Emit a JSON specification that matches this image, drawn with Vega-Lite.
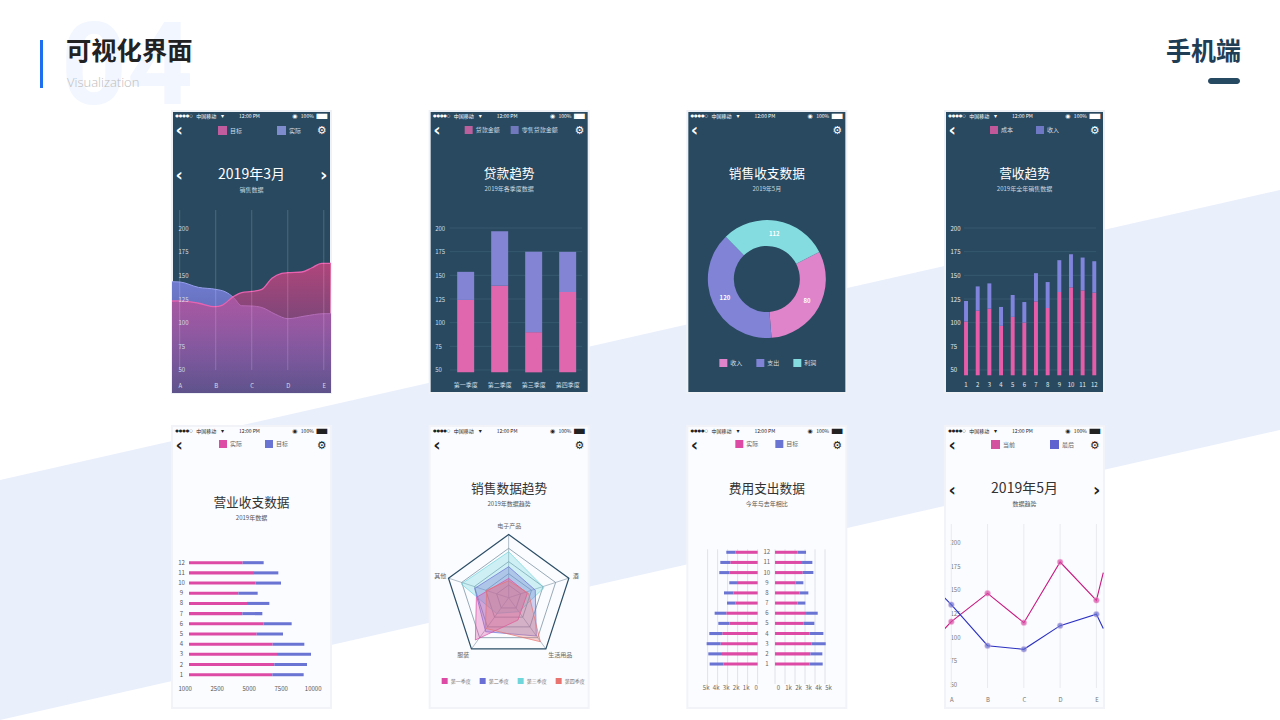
{
"$schema":"https://vega.github.io/schema/vega-lite/v6.json",
"background":"#ffffff",
"padding":{"left":-1,"top":-1,"right":0,"bottom":0},
"columns":4,
"bounds":"flush",
"spacing":{"row":33,"column":98.67},
"resolve":{"scale":{"color":"independent","fill":"independent"},"legend":{"color":"independent","fill":"independent"}},
"config":{
 "font":"Noto Sans CJK SC",
 "view":{"stroke":null},
 "axis":{"domain":false,"ticks":false,"grid":false,"labelFont":"Noto Sans CJK SC","labelFontSize":6,"labelOverlap":false,"labelFlush":false,"labelBound":false,"zindex":1},
 "legend":{"symbolType":"square","symbolSize":64,"labelFont":"Noto Sans CJK SC","labelFontSize":6,"labelOffset":3,"padding":0,"rowPadding":0,"symbolStrokeWidth":0},
 "title":{"font":"Noto Sans CJK SC","fontSize":12.7,"fontWeight":"normal","subtitleFont":"Noto Sans CJK SC","subtitleFontSize":6,"subtitlePadding":5,"anchor":"middle"},
 "text":{"font":"Noto Sans CJK SC"}
},
"datasets":{
 "status":[{"slot":"s2","row":"status","label":"中国移动"},{"slot":"time","row":"status","label":"12:00 PM"},{"slot":"percent","row":"status","label":"100%"}],
 "dots":[{"slot":"back","row":"status","label":"●●●●○"}],
 "icons":[{"slot":"wifi","row":"status","label":"▾"},{"slot":"alarm","row":"status","label":"◉"}],
 "battery":[{"slot":"end","row":"status","label":"▬"}],
 "nav":[{"slot":"back","row":"nav","label":"‹"}],
 "gear":[{"slot":"end","row":"nav","label":"⚙"}],
 "pager":[{"slot":"back","row":"pager","label":"‹"},{"slot":"end","row":"pager","label":"›"}],
 "levels":[{"level":50},{"level":75},{"level":100},{"level":125},{"level":150},{"level":175},{"level":200}],
 "thousands":[{"low":0},{"low":1000},{"low":2000},{"low":3000},{"low":4000},{"low":5000}],
 "areaRows":[
  {"series":"实际","pos":-0.214,"value":143.3},{"series":"实际","pos":0,"value":143},{"series":"实际","pos":0.52,"value":137.3},{"series":"实际","pos":1,"value":135.2},{"series":"实际","pos":1.26,"value":132.7},{"series":"实际","pos":1.49,"value":126.8},{"series":"实际","pos":1.72,"value":117.9},{"series":"实际","pos":2,"value":117.6},{"series":"实际","pos":2.28,"value":116},{"series":"实际","pos":2.65,"value":109},{"series":"实际","pos":3,"value":104.2},{"series":"实际","pos":3.48,"value":107},{"series":"实际","pos":4,"value":109.5},{"series":"实际","pos":4.2,"value":109.5},
  {"series":"目标","pos":-0.214,"value":122.9},{"series":"目标","pos":0,"value":123},{"series":"目标","pos":0.52,"value":120.5},{"series":"目标","pos":0.98,"value":116.9},{"series":"目标","pos":1.17,"value":118.3},{"series":"目标","pos":1.49,"value":127.5},{"series":"目标","pos":1.72,"value":131.7},{"series":"目标","pos":2,"value":133},{"series":"目标","pos":2.28,"value":135.2},{"series":"目标","pos":2.56,"value":146.8},{"series":"目标","pos":2.83,"value":152},{"series":"目标","pos":3,"value":152.8},{"series":"目标","pos":3.39,"value":153.5},{"series":"目标","pos":3.67,"value":158},{"series":"目标","pos":3.94,"value":162.7},{"series":"目标","pos":4.2,"value":162.7}
 ],
 "fiveTicks":[{"pos":0,"value":219,"low":50},{"pos":1,"value":219,"low":50},{"pos":2,"value":219,"low":50},{"pos":3,"value":219,"low":50},{"pos":4,"value":219,"low":50}],
 "quarterBars":[
  {"quarter":"第一季度","series":"贷款金额","low":47.5,"high":124},{"quarter":"第一季度","series":"零售贷款金额","low":124,"high":153.7},
  {"quarter":"第二季度","series":"贷款金额","low":47.5,"high":139},{"quarter":"第二季度","series":"零售贷款金额","low":139,"high":196.5},
  {"quarter":"第三季度","series":"贷款金额","low":47.5,"high":90},{"quarter":"第三季度","series":"零售贷款金额","low":90,"high":174.8},
  {"quarter":"第四季度","series":"贷款金额","low":47.5,"high":132.4},{"quarter":"第四季度","series":"零售贷款金额","low":132.4,"high":174.8}
 ],
 "donut":[{"name":"收入","value":80,"share":112.8,"rank":1},{"name":"支出","value":120,"share":140.5,"rank":2},{"name":"利润","value":112,"share":106.8,"rank":3}],
 "monthBars":[
  {"month":"1","series":"成本","low":44.4,"high":101.2},{"month":"1","series":"收入","low":101.2,"high":122.9},
  {"month":"2","series":"成本","low":44.4,"high":112.7},{"month":"2","series":"收入","low":112.7,"high":138.3},
  {"month":"3","series":"成本","low":44.4,"high":114.8},{"month":"3","series":"收入","low":114.8,"high":141.5},
  {"month":"4","series":"成本","low":44.4,"high":96.6},{"month":"4","series":"收入","low":96.6,"high":116.6},
  {"month":"5","series":"成本","low":44.4,"high":106.1},{"month":"5","series":"收入","low":106.1,"high":129.2},
  {"month":"6","series":"成本","low":44.4,"high":100.1},{"month":"6","series":"收入","low":100.1,"high":121.8},
  {"month":"7","series":"成本","low":44.4,"high":122.5},{"month":"7","series":"收入","low":122.5,"high":152.3},
  {"month":"8","series":"成本","low":44.4,"high":115.5},{"month":"8","series":"收入","low":115.5,"high":142.9},
  {"month":"9","series":"成本","low":44.4,"high":132.4},{"month":"9","series":"收入","low":132.4,"high":166},
  {"month":"10","series":"成本","low":44.4,"high":137.3},{"month":"10","series":"收入","low":137.3,"high":172.3},
  {"month":"11","series":"成本","low":44.4,"high":134.1},{"month":"11","series":"收入","low":134.1,"high":168.8},
  {"month":"12","series":"成本","low":44.4,"high":131.7},{"month":"12","series":"收入","low":131.7,"high":164.9}
 ],
 "hBars":[
  {"month":"12","series":"实际","low":340,"high":4531},{"month":"12","series":"目标","low":4531,"high":6172},
  {"month":"11","series":"实际","low":340,"high":5416},{"month":"11","series":"目标","low":5416,"high":7317},
  {"month":"10","series":"实际","low":340,"high":5547},{"month":"10","series":"目标","low":5547,"high":7526},
  {"month":"9","series":"实际","low":340,"high":4193},{"month":"9","series":"目标","low":4193,"high":5703},
  {"month":"8","series":"实际","low":340,"high":4870},{"month":"8","series":"目标","low":4870,"high":6615},
  {"month":"7","series":"实际","low":340,"high":4505},{"month":"7","series":"目标","low":4505,"high":6068},
  {"month":"6","series":"实际","low":340,"high":6146},{"month":"6","series":"目标","low":6146,"high":8359},
  {"month":"5","series":"实际","low":340,"high":5625},{"month":"5","series":"目标","low":5625,"high":7682},
  {"month":"4","series":"实际","low":340,"high":6875},{"month":"4","series":"目标","low":6875,"high":9349},
  {"month":"3","series":"实际","low":340,"high":7213},{"month":"3","series":"目标","low":7213,"high":9870},
  {"month":"2","series":"实际","low":340,"high":7005},{"month":"2","series":"目标","low":7005,"high":9557},
  {"month":"1","series":"实际","low":340,"high":6849},{"month":"1","series":"目标","low":6849,"high":9297}
 ],
 "rings":[
  {"ring":"r1","i":1,"east":0,"north":100},{"ring":"r1","i":2,"east":95.1,"north":30.9},{"ring":"r1","i":3,"east":58.8,"north":-80.9},{"ring":"r1","i":4,"east":-58.8,"north":-80.9},{"ring":"r1","i":5,"east":-95.1,"north":30.9},
  {"ring":"r2","i":1,"east":0,"north":78},{"ring":"r2","i":2,"east":74.2,"north":24.1},{"ring":"r2","i":3,"east":45.9,"north":-63.1},{"ring":"r2","i":4,"east":-45.9,"north":-63.1},{"ring":"r2","i":5,"east":-74.2,"north":24.1},
  {"ring":"r3","i":1,"east":0,"north":57},{"ring":"r3","i":2,"east":54.2,"north":17.6},{"ring":"r3","i":3,"east":33.5,"north":-46.1},{"ring":"r3","i":4,"east":-33.5,"north":-46.1},{"ring":"r3","i":5,"east":-54.2,"north":17.6},
  {"ring":"r4","i":1,"east":0,"north":38},{"ring":"r4","i":2,"east":36.1,"north":11.7},{"ring":"r4","i":3,"east":22.3,"north":-30.7},{"ring":"r4","i":4,"east":-22.3,"north":-30.7},{"ring":"r4","i":5,"east":-36.1,"north":11.7},
  {"ring":"r5","i":1,"east":0,"north":20},{"ring":"r5","i":2,"east":19,"north":6.2},{"ring":"r5","i":3,"east":11.8,"north":-16.2},{"ring":"r5","i":4,"east":-11.8,"north":-16.2},{"ring":"r5","i":5,"east":-19,"north":6.2}
 ],
 "spokes":[
  {"spoke":"s1","i":1,"east":0,"north":0},{"spoke":"s1","i":2,"east":0,"north":100},
  {"spoke":"s2","i":1,"east":0,"north":0},{"spoke":"s2","i":2,"east":95.1,"north":30.9},
  {"spoke":"s3","i":1,"east":0,"north":0},{"spoke":"s3","i":2,"east":58.8,"north":-80.9},
  {"spoke":"s4","i":1,"east":0,"north":0},{"spoke":"s4","i":2,"east":-58.8,"north":-80.9},
  {"spoke":"s5","i":1,"east":0,"north":0},{"spoke":"s5","i":2,"east":-95.1,"north":30.9}
 ],
 "radar":[
  {"q":"第三季度","i":1,"east":0,"north":72.6},{"q":"第三季度","i":2,"east":55.8,"north":15.8},{"q":"第三季度","i":3,"east":16.3,"north":-22.1},{"q":"第三季度","i":4,"east":-19.5,"north":-24.7},{"q":"第三季度","i":5,"east":-74.7,"north":21.6},
  {"q":"第二季度","i":1,"east":0,"north":49},{"q":"第二季度","i":2,"east":42,"north":12},{"q":"第二季度","i":3,"east":43.7,"north":-60.5},{"q":"第二季度","i":4,"east":-36.3,"north":-53.7},{"q":"第二季度","i":5,"east":-53.7,"north":14.7},
  {"q":"第一季度","i":1,"east":0,"north":30.5},{"q":"第一季度","i":2,"east":29.5,"north":6.8},{"q":"第一季度","i":3,"east":14.7,"north":-35.3},{"q":"第一季度","i":4,"east":-52.6,"north":-66.8},{"q":"第一季度","i":5,"east":-51,"north":0.5},
  {"q":"第四季度","i":1,"east":0,"north":26.8},{"q":"第四季度","i":2,"east":31.6,"north":6.8},{"q":"第四季度","i":3,"east":50,"north":-69.5},{"q":"第四季度","i":4,"east":-36.8,"north":-48.4},{"q":"第四季度","i":5,"east":-34.7,"north":12}
 ],
 "radarLabels":[{"label":"电子产品","east":1,"north":113},{"label":"酒","east":106,"north":33.7},{"label":"生活用品","east":81.6,"north":-90},{"label":"服装","east":-71.6,"north":-90},{"label":"其他","east":-108,"north":33.7}],
 "leftBars":[
  {"month":"12","series":"实际","low":0,"high":2233},{"month":"12","series":"目标","low":2233,"high":3133},
  {"month":"11","series":"实际","low":0,"high":2733},{"month":"11","series":"目标","low":2733,"high":3733},
  {"month":"10","series":"实际","low":0,"high":2800},{"month":"10","series":"目标","low":2800,"high":3833},
  {"month":"9","series":"实际","low":0,"high":2067},{"month":"9","series":"目标","low":2067,"high":2833},
  {"month":"8","series":"实际","low":0,"high":2400},{"month":"8","series":"目标","low":2400,"high":3367},
  {"month":"7","series":"实际","low":0,"high":2200},{"month":"7","series":"目标","low":2200,"high":3067},
  {"month":"6","series":"实际","low":0,"high":3133},{"month":"6","series":"目标","low":3133,"high":4300},
  {"month":"5","series":"实际","low":0,"high":2800},{"month":"5","series":"目标","low":2800,"high":3933},
  {"month":"4","series":"实际","low":0,"high":3533},{"month":"4","series":"目标","low":3533,"high":4833},
  {"month":"3","series":"实际","low":0,"high":3700},{"month":"3","series":"目标","low":3700,"high":5100},
  {"month":"2","series":"实际","low":0,"high":3567},{"month":"2","series":"目标","low":3567,"high":4933},
  {"month":"1","series":"实际","low":0,"high":3433},{"month":"1","series":"目标","low":3433,"high":4800}
 ],
 "rightBars":[
  {"month":"12","series":"实际","low":0,"high":2267},{"month":"12","series":"目标","low":2267,"high":3100},
  {"month":"11","series":"实际","low":0,"high":2700},{"month":"11","series":"目标","low":2700,"high":3733},
  {"month":"10","series":"实际","low":0,"high":2767},{"month":"10","series":"目标","low":2767,"high":3833},
  {"month":"9","series":"实际","low":0,"high":2033},{"month":"9","series":"目标","low":2033,"high":2833},
  {"month":"8","series":"实际","low":0,"high":2433},{"month":"8","series":"目标","low":2433,"high":3333},
  {"month":"7","series":"实际","low":0,"high":2233},{"month":"7","series":"目标","low":2233,"high":3033},
  {"month":"6","series":"实际","low":0,"high":3100},{"month":"6","series":"目标","low":3100,"high":4267},
  {"month":"5","series":"实际","low":0,"high":2867},{"month":"5","series":"目标","low":2867,"high":3933},
  {"month":"4","series":"实际","low":0,"high":3467},{"month":"4","series":"目标","low":3467,"high":4833},
  {"month":"3","series":"实际","low":0,"high":3667},{"month":"3","series":"目标","low":3667,"high":5067},
  {"month":"2","series":"实际","low":0,"high":3533},{"month":"2","series":"目标","low":3533,"high":4733},
  {"month":"1","series":"实际","low":0,"high":3467},{"month":"1","series":"目标","low":3467,"high":4767}
 ],
 "trend":[
  {"series":"当前","pos":-0.2,"value":108.1},{"series":"当前","pos":0,"value":116.2},{"series":"当前","pos":1,"value":146.1},{"series":"当前","pos":2,"value":115.1},{"series":"当前","pos":3,"value":179.2},{"series":"当前","pos":4,"value":138.7},{"series":"当前","pos":4.19,"value":168},
  {"series":"最后","pos":-0.2,"value":141.9},{"series":"最后","pos":0,"value":134.2},{"series":"最后","pos":1,"value":90.8},{"series":"最后","pos":2,"value":87},{"series":"最后","pos":3,"value":112},{"series":"最后","pos":4,"value":124},{"series":"最后","pos":4.19,"value":109}
 ],
 "trendTicks":[{"pos":0,"value":219.4,"low":46},{"pos":1,"value":219.4,"low":46},{"pos":2,"value":219.4,"low":46},{"pos":3,"value":219.4,"low":46},{"pos":4,"value":219.4,"low":46}]
},
"concat":[
{
 "width":159,"height":282,
 "view":{"fill":"#28495f","stroke":"#eef1f6","strokeWidth":2},
 "title":{"text":"2019年3月","subtitle":"销售数据","color":"#ffffff","subtitleColor":"#cdd6dd","fontSize":14,"offset":-193},
 "resolve":{"scale":{"x":"independent","y":"independent"}},
 "layer":[
  {
   "encoding":{
    "x":{"field":"across","type":"quantitative","axis":null,"scale":{"domain":[172,331],"nice":false,"zero":false}},
    "y":{"field":"down","type":"quantitative","axis":null,"scale":{"domain":[393,111],"nice":false,"zero":false}}
   },
   "layer":[
    {"data":{"values":[{"across":0,"down":0,"acrossEnd":1280,"downEnd":720}]},"mark":{"type":"rect","fill":"#ffffff","opacity":0},"encoding":{"x2":{"field":"acrossEnd"},"y2":{"field":"downEnd"}}},
    {"data":{"values":[{"across":0,"down":480,"downEnd":720},{"across":1280,"down":190,"downEnd":430}]},"mark":{"type":"area","color":"#e9effb"},"encoding":{"y2":{"field":"downEnd"}}},
    {"data":{"values":[{"across":127,"down":104,"label":"04"}]},"mark":{"type":"text","font":"Roboto","fontWeight":"bold","fontSize":115,"color":"#f2f6fe","align":"center","baseline":"alphabetic"},"encoding":{"text":{"field":"label"}}},
    {"data":{"values":[{"across":40,"down":40,"acrossEnd":43,"downEnd":88}]},"mark":{"type":"rect","color":"#1e6ff0"},"encoding":{"x2":{"field":"acrossEnd"},"y2":{"field":"downEnd"}}},
    {"data":{"values":[{"across":66,"down":52,"label":"可视化界面"}]},"mark":{"type":"text","fontSize":25.3,"fontWeight":"bold","color":"#222222","align":"left","baseline":"middle"},"encoding":{"text":{"field":"label"}}},
    {"data":{"values":[{"across":67,"down":83,"label":"Visualization"}]},"mark":{"type":"text","font":"Open Sans","fontSize":13,"fontWeight":300,"color":"#bdbdbd","align":"left","baseline":"middle"},"encoding":{"text":{"field":"label"}}},
    {"data":{"values":[{"across":1241,"down":52,"label":"手机端"}]},"mark":{"type":"text","fontSize":25,"fontWeight":"bold","color":"#1f3d55","align":"right","baseline":"middle"},"encoding":{"text":{"field":"label"}}},
    {"data":{"values":[{"across":1208,"down":78,"acrossEnd":1240,"downEnd":84}]},"mark":{"type":"rect","color":"#274a63","cornerRadius":3},"encoding":{"x2":{"field":"acrossEnd"},"y2":{"field":"downEnd"}}}
   ]
  },
  {
   "data":{"name":"areaRows"},
   "encoding":{
    "x":{"field":"pos","type":"quantitative","title":null,"scale":{"domain":[-0.214,4.2],"nice":false,"zero":false},"axis":{"zindex":1,"values":[0,1,2,3,4],"labelExpr":"['A','B','C','D','E'][datum.value]","labelPadding":-8,"labelBaseline":"middle","labelColor":"#d5dde3"}},
    "y":{"field":"value","type":"quantitative","title":null,"stack":null,"scale":{"domain":[25.7,323.6],"nice":false,"zero":false},"axis":{"zindex":1,"values":[50,75,100,125,150,175,200],"labelAlign":"left","labelPadding":-6,"labelColor":"#d5dde3"}}
   },
   "layer":[
    {"transform":[{"filter":{"field":"series","equal":"实际"}}],"mark":{"type":"area","interpolate":"monotone","color":{"gradient":"linear","x1":0,"y1":0,"x2":0,"y2":1,"stops":[{"offset":0,"color":"#707bd0"},{"offset":1,"color":"#465585"}]}},"encoding":{"y2":{"datum":25.7}}},
    {"transform":[{"filter":{"field":"series","equal":"实际"}}],"mark":{"type":"line","interpolate":"monotone","strokeWidth":1},"encoding":{"color":{"field":"series","type":"nominal","scale":{"domain":["目标","实际"],"range":["#e862b0","#949dea"]},"legend":{"orient":"none","legendX":46,"legendY":15,"direction":"horizontal","columns":2,"columnPadding":22,"title":null,"labelColor":"#d5dde3","symbolSize":1,"symbolStrokeWidth":8,"symbolOpacity":0.8}}}},
    {"transform":[{"filter":{"field":"series","equal":"目标"}}],"mark":{"type":"area","interpolate":"monotone","color":{"gradient":"linear","x1":0,"y1":0,"x2":0,"y2":1,"stops":[{"offset":0,"color":"rgba(214,68,130,0.78)"},{"offset":1,"color":"rgba(190,70,160,0.2)"}]}},"encoding":{"y2":{"datum":25.7}}},
    {"transform":[{"filter":{"field":"series","equal":"目标"}}],"mark":{"type":"line","interpolate":"monotone","strokeWidth":1.3},"encoding":{"color":{"field":"series","type":"nominal"}}},
    {"data":{"name":"fiveTicks"},"mark":{"type":"rule","color":"#ffffff","opacity":0.18,"strokeWidth":1},"encoding":{"y2":{"field":"low"}}}
   ]
  },
  {
   "encoding":{
    "x":{"field":"slot","type":"nominal","axis":null,"scale":{"domain":["back","carrier","s2","wifi","s4","time","s6","s7","alarm","percent","end"],"range":[0,159],"padding":0.5}},
    "y":{"field":"row","type":"nominal","axis":null,"scale":{"domain":["status","nav","a","b","pager"],"range":[5,65],"padding":0}},
    "text":{"field":"label"}
   },
   "layer":[
    {"data":{"name":"status"},"mark":{"type":"text","color":"#ffffff","fontSize":5,"dx":-2}},
    {"data":{"name":"dots"},"mark":{"type":"text","color":"#ffffff","fontSize":4,"font":"DejaVu Sans","align":"left","dx":-4}},
    {"data":{"name":"icons"},"mark":{"type":"text","color":"#ffffff","fontSize":6,"font":"DejaVu Sans"}},
    {"data":{"name":"battery"},"mark":{"type":"text","color":"#ffffff","fontSize":14,"font":"DejaVu Sans","dx":-2}},
    {"data":{"name":"nav"},"mark":{"type":"text","color":"#ffffff","fontSize":18,"font":"DejaVu Sans","fontWeight":"bold"}},
    {"data":{"name":"gear"},"mark":{"type":"text","color":"#ffffff","fontSize":11,"font":"DejaVu Sans","dx":-2}},
    {"data":{"name":"pager"},"mark":{"type":"text","color":"#ffffff","fontSize":18,"font":"DejaVu Sans","fontWeight":"bold"}}
   ]
  }
 ]
},
{
 "width":159,"height":282,
 "view":{"fill":"#28495f","stroke":"#eef1f6","strokeWidth":2},
 "title":{"text":"贷款趋势","subtitle":"2019年各季度数据","color":"#ffffff","subtitleColor":"#cdd6dd","offset":-83},
 "resolve":{"scale":{"x":"independent","y":"independent"}},
 "layer":[
  {
   "encoding":{
    "y":{"type":"quantitative","title":null,"scale":{"domain":[25.7,323.6],"nice":false,"zero":false}}
   },
   "layer":[
    {"data":{"name":"levels"},"mark":{"type":"rule","color":"#37596f","xOffset":-7.5,"x2Offset":6},"encoding":{"x":{"datum":"第一季度","type":"nominal","bandPosition":0,"scale":{"type":"band","domain":["第一季度","第二季度","第三季度","第四季度"],"range":[19,155],"paddingInner":0.5,"paddingOuter":0.25},"title":null,"axis":{"labelPadding":-9,"labelBaseline":"middle","labelColor":"#d5dde3","labelAngle":0}},"x2":{"datum":"第四季度","bandPosition":1},"y":{"field":"level","type":"quantitative","axis":{"values":[50,75,100,125,150,175,200],"labelAlign":"left","labelPadding":-5,"labelColor":"#d5dde3"}}}},
    {"data":{"name":"quarterBars"},"mark":{"type":"bar"},"encoding":{"x":{"field":"quarter","type":"nominal","title":null},"y":{"field":"low","type":"quantitative"},"y2":{"field":"high"},"color":{"field":"series","type":"nominal","scale":{"domain":["贷款金额","零售贷款金额"],"range":["#e067ad","#8384d3"]},"legend":{"orient":"none","legendX":35,"legendY":15,"direction":"horizontal","columns":2,"columnPadding":10,"title":null,"labelColor":"#d5dde3","symbolOpacity":0.8}}}}
   ]
  },
  {
   "encoding":{
    "x":{"field":"slot","type":"nominal","axis":null,"scale":{"domain":["back","carrier","s2","wifi","s4","time","s6","s7","alarm","percent","end"],"range":[0,159],"padding":0.5}},
    "y":{"field":"row","type":"nominal","axis":null,"scale":{"domain":["status","nav","a","b","pager"],"range":[5,65],"padding":0}},
    "text":{"field":"label"}
   },
   "layer":[
    {"data":{"name":"status"},"mark":{"type":"text","color":"#ffffff","fontSize":5,"dx":-2}},
    {"data":{"name":"dots"},"mark":{"type":"text","color":"#ffffff","fontSize":4,"font":"DejaVu Sans","align":"left","dx":-4}},
    {"data":{"name":"icons"},"mark":{"type":"text","color":"#ffffff","fontSize":6,"font":"DejaVu Sans"}},
    {"data":{"name":"battery"},"mark":{"type":"text","color":"#ffffff","fontSize":14,"font":"DejaVu Sans","dx":-2}},
    {"data":{"name":"nav"},"mark":{"type":"text","color":"#ffffff","fontSize":18,"font":"DejaVu Sans","fontWeight":"bold"}},
    {"data":{"name":"gear"},"mark":{"type":"text","color":"#ffffff","fontSize":11,"font":"DejaVu Sans","dx":-2}}
   ]
  }
 ]
},
{
 "width":159,"height":282,
 "view":{"fill":"#28495f","stroke":"#eef1f6","strokeWidth":2},
 "title":{"text":"销售收支数据","subtitle":"2019年5月","color":"#ffffff","subtitleColor":"#cdd6dd","offset":-83},
 "resolve":{"scale":{"x":"independent","y":"independent"}},
 "layer":[
  {
   "data":{"name":"donut"},
   "encoding":{
    "theta":{"field":"share","type":"quantitative","stack":true,"scale":{"range":[1.094,7.377]}},
    "order":{"field":"rank","type":"quantitative"},
    "y":{"datum":"donut","type":"nominal","axis":null,"scale":{"domain":["donut"],"range":[168,168]}},
    "color":{"field":"name","type":"nominal","scale":{"domain":["收入","支出","利润"],"range":["#df83ca","#8183d6","#84dbe0"]},"legend":{"orient":"none","legendX":32,"legendY":248,"direction":"horizontal","columns":3,"columnPadding":13,"title":null,"labelColor":"#d5dde3"}}
   },
   "layer":[
    {"mark":{"type":"arc","innerRadius":33,"outerRadius":59}},
    {"mark":{"type":"text","radius":46,"color":"#ffffff","fontSize":6,"fontWeight":"bold"},"encoding":{"text":{"field":"value","type":"quantitative"},"color":{"value":"#ffffff"}}}
   ]
  },
  {
   "encoding":{
    "x":{"field":"slot","type":"nominal","axis":null,"scale":{"domain":["back","carrier","s2","wifi","s4","time","s6","s7","alarm","percent","end"],"range":[0,159],"padding":0.5}},
    "y":{"field":"row","type":"nominal","axis":null,"scale":{"domain":["status","nav","a","b","pager"],"range":[5,65],"padding":0}},
    "text":{"field":"label"}
   },
   "layer":[
    {"data":{"name":"status"},"mark":{"type":"text","color":"#ffffff","fontSize":5,"dx":-2}},
    {"data":{"name":"dots"},"mark":{"type":"text","color":"#ffffff","fontSize":4,"font":"DejaVu Sans","align":"left","dx":-4}},
    {"data":{"name":"icons"},"mark":{"type":"text","color":"#ffffff","fontSize":6,"font":"DejaVu Sans"}},
    {"data":{"name":"battery"},"mark":{"type":"text","color":"#ffffff","fontSize":14,"font":"DejaVu Sans","dx":-2}},
    {"data":{"name":"nav"},"mark":{"type":"text","color":"#ffffff","fontSize":18,"font":"DejaVu Sans","fontWeight":"bold"}},
    {"data":{"name":"gear"},"mark":{"type":"text","color":"#ffffff","fontSize":11,"font":"DejaVu Sans","dx":-2}}
   ]
  }
 ]
},
{
 "width":159,"height":282,
 "view":{"fill":"#28495f","stroke":"#eef1f6","strokeWidth":2},
 "title":{"text":"营收趋势","subtitle":"2019年全年销售数据","color":"#ffffff","subtitleColor":"#cdd6dd","offset":-83},
 "resolve":{"scale":{"x":"independent","y":"independent"}},
 "layer":[
  {
   "encoding":{
    "y":{"type":"quantitative","title":null,"scale":{"domain":[25.7,323.6],"nice":false,"zero":false}}
   },
   "layer":[
    {"data":{"name":"levels"},"mark":{"type":"rule","color":"#37596f"},"encoding":{"x":{"datum":"1","type":"nominal","bandPosition":0,"scale":{"type":"band","domain":["1","2","3","4","5","6","7","8","9","10","11","12"],"range":[15.2,155.1],"paddingInner":0.66,"paddingOuter":0.33},"title":null,"axis":{"labelPadding":-9,"labelBaseline":"middle","labelColor":"#e6ebef","labelAngle":0}},"x2":{"datum":"12","bandPosition":1},"y":{"field":"level","type":"quantitative","axis":{"values":[50,75,100,125,150,175,200],"labelAlign":"left","labelPadding":-5,"labelColor":"#e6ebef"}}}},
    {"data":{"name":"monthBars"},"mark":{"type":"bar"},"encoding":{"x":{"field":"month","type":"nominal","title":null},"y":{"field":"low","type":"quantitative"},"y2":{"field":"high"},"color":{"field":"series","type":"nominal","scale":{"domain":["成本","收入"],"range":["#e65ca8","#8184dd"]},"legend":{"orient":"none","legendX":45,"legendY":15,"direction":"horizontal","columns":2,"columnPadding":22,"title":null,"labelColor":"#d5dde3","symbolOpacity":0.8}}}}
   ]
  },
  {
   "encoding":{
    "x":{"field":"slot","type":"nominal","axis":null,"scale":{"domain":["back","carrier","s2","wifi","s4","time","s6","s7","alarm","percent","end"],"range":[0,159],"padding":0.5}},
    "y":{"field":"row","type":"nominal","axis":null,"scale":{"domain":["status","nav","a","b","pager"],"range":[5,65],"padding":0}},
    "text":{"field":"label"}
   },
   "layer":[
    {"data":{"name":"status"},"mark":{"type":"text","color":"#ffffff","fontSize":5,"dx":-2}},
    {"data":{"name":"dots"},"mark":{"type":"text","color":"#ffffff","fontSize":4,"font":"DejaVu Sans","align":"left","dx":-4}},
    {"data":{"name":"icons"},"mark":{"type":"text","color":"#ffffff","fontSize":6,"font":"DejaVu Sans"}},
    {"data":{"name":"battery"},"mark":{"type":"text","color":"#ffffff","fontSize":14,"font":"DejaVu Sans","dx":-2}},
    {"data":{"name":"nav"},"mark":{"type":"text","color":"#ffffff","fontSize":18,"font":"DejaVu Sans","fontWeight":"bold"}},
    {"data":{"name":"gear"},"mark":{"type":"text","color":"#ffffff","fontSize":11,"font":"DejaVu Sans","dx":-2}}
   ]
  }
 ]
},
{
 "width":159,"height":282,
 "view":{"fill":"#fbfcff","stroke":"#f1f3f8","strokeWidth":2},
 "title":{"text":"营业收支数据","subtitle":"2019年数据","color":"#333333","subtitleColor":"#555555","offset":-97},
 "resolve":{"scale":{"x":"independent","y":"independent"}},
 "layer":[
  {
   "data":{"name":"hBars"},
   "mark":{"type":"bar"},
   "encoding":{
    "x":{"field":"low","type":"quantitative","title":null,"scale":{"domain":[-990,11432],"nice":false,"zero":false},"axis":{"values":[0,2500,5000,7500,10000],"labelExpr":"datum.value==0?'1000':datum.value","labelPadding":-20,"labelBaseline":"middle","labelColor":"#555555"}},
    "x2":{"field":"high"},
    "y":{"field":"month","type":"nominal","title":null,"scale":{"type":"band","domain":["12","11","10","9","8","7","6","5","4","3","2","1"],"range":[131.6,253.8],"paddingInner":0.7,"paddingOuter":0.35},"axis":{"labelAlign":"center","labelPadding":-9,"labelColor":"#555555"}},
    "color":{"field":"series","type":"nominal","scale":{"domain":["实际","目标"],"range":["#dc4aa5","#6a74d2"]},"legend":{"orient":"none","legendX":47,"legendY":14,"direction":"horizontal","columns":2,"columnPadding":22,"title":null,"labelColor":"#666666"}}
   }
  },
  {
   "encoding":{
    "x":{"field":"slot","type":"nominal","axis":null,"scale":{"domain":["back","carrier","s2","wifi","s4","time","s6","s7","alarm","percent","end"],"range":[0,159],"padding":0.5}},
    "y":{"field":"row","type":"nominal","axis":null,"scale":{"domain":["status","nav","a","b","pager"],"range":[5,65],"padding":0}},
    "text":{"field":"label"}
   },
   "layer":[
    {"data":{"name":"status"},"mark":{"type":"text","color":"#222222","fontSize":5,"dx":-2}},
    {"data":{"name":"dots"},"mark":{"type":"text","color":"#222222","fontSize":4,"font":"DejaVu Sans","align":"left","dx":-4}},
    {"data":{"name":"icons"},"mark":{"type":"text","color":"#222222","fontSize":6,"font":"DejaVu Sans"}},
    {"data":{"name":"battery"},"mark":{"type":"text","color":"#222222","fontSize":14,"font":"DejaVu Sans","dx":-2}},
    {"data":{"name":"nav"},"mark":{"type":"text","color":"#222222","fontSize":18,"font":"DejaVu Sans","fontWeight":"bold"}},
    {"data":{"name":"gear"},"mark":{"type":"text","color":"#222222","fontSize":11,"font":"DejaVu Sans","dx":-2}}
   ]
  }
 ]
},
{
 "width":159,"height":282,
 "view":{"fill":"#fbfcff","stroke":"#f1f3f8","strokeWidth":2},
 "title":{"text":"销售数据趋势","subtitle":"2019年数据趋势","color":"#333333","subtitleColor":"#555555","offset":-83},
 "resolve":{"scale":{"x":"independent","y":"independent"}},
 "layer":[
  {
   "encoding":{
    "x":{"field":"east","type":"quantitative","axis":null,"scale":{"domain":[-124.8,126.4],"nice":false,"zero":false}},
    "y":{"field":"north","type":"quantitative","axis":null,"scale":{"domain":[-174.2,271.2],"nice":false,"zero":false}}
   },
   "layer":[
    {"data":{"name":"spokes"},"mark":{"type":"line","color":"#8fa2b0","strokeWidth":0.7},"encoding":{"detail":{"field":"spoke"},"order":{"field":"i","type":"quantitative"}}},
    {"data":{"name":"rings"},"transform":[{"filter":{"field":"ring","oneOf":["r2","r3","r4","r5"]}}],"mark":{"type":"line","interpolate":"linear-closed","color":"#7d93a3","strokeWidth":0.8},"encoding":{"detail":{"field":"ring"},"order":{"field":"i","type":"quantitative"}}},
    {"data":{"name":"rings"},"transform":[{"filter":{"field":"ring","equal":"r1"}}],"mark":{"type":"line","interpolate":"linear-closed","color":"#2b4d66","strokeWidth":1.2},"encoding":{"detail":{"field":"ring"},"order":{"field":"i","type":"quantitative"}}},
    {"data":{"name":"radar"},"mark":{"type":"line","interpolate":"linear-closed","strokeWidth":0.7,"fillOpacity":0.32},"encoding":{"order":{"field":"i","type":"quantitative"},"color":{"field":"q","type":"nominal","scale":{"domain":["第一季度","第二季度","第三季度","第四季度"],"range":["#dd4aa5","#6a6fd5","#6fd6dc","#e8736f"]},"legend":{"orient":"none","legendX":12,"legendY":252,"direction":"horizontal","columns":4,"columnPadding":8,"title":null,"labelColor":"#777777","labelFontSize":5,"symbolSize":36}},"fill":{"field":"q","type":"nominal","scale":{"domain":["第一季度","第二季度","第三季度","第四季度"],"range":["#dd4aa5","#6a6fd5","#6fd6dc","#e8736f"]},"legend":null}}},
    {"data":{"name":"radarLabels"},"mark":{"type":"text","fontSize":6,"color":"#666666"},"encoding":{"text":{"field":"label"}}}
   ]
  },
  {
   "encoding":{
    "x":{"field":"slot","type":"nominal","axis":null,"scale":{"domain":["back","carrier","s2","wifi","s4","time","s6","s7","alarm","percent","end"],"range":[0,159],"padding":0.5}},
    "y":{"field":"row","type":"nominal","axis":null,"scale":{"domain":["status","nav","a","b","pager"],"range":[5,65],"padding":0}},
    "text":{"field":"label"}
   },
   "layer":[
    {"data":{"name":"status"},"mark":{"type":"text","color":"#222222","fontSize":5,"dx":-2}},
    {"data":{"name":"dots"},"mark":{"type":"text","color":"#222222","fontSize":4,"font":"DejaVu Sans","align":"left","dx":-4}},
    {"data":{"name":"icons"},"mark":{"type":"text","color":"#222222","fontSize":6,"font":"DejaVu Sans"}},
    {"data":{"name":"battery"},"mark":{"type":"text","color":"#222222","fontSize":14,"font":"DejaVu Sans","dx":-2}},
    {"data":{"name":"nav"},"mark":{"type":"text","color":"#222222","fontSize":18,"font":"DejaVu Sans","fontWeight":"bold"}},
    {"data":{"name":"gear"},"mark":{"type":"text","color":"#222222","fontSize":11,"font":"DejaVu Sans","dx":-2}}
   ]
  }
 ]
},
{
 "width":159,"height":282,
 "view":{"fill":"#fbfcff","stroke":"#f1f3f8","strokeWidth":2},
 "title":{"text":"费用支出数据","subtitle":"今年与去年相比","color":"#333333","subtitleColor":"#555555","offset":-83},
 "resolve":{"scale":{"x":"independent","y":"independent"}},
 "layer":[
  {
   "encoding":{
    "x":{"field":"low","type":"quantitative","title":null,"scale":{"domain":[5000,0],"range":[20.3,70.3],"nice":false,"zero":false},"axis":{"orient":"bottom","values":[5000,4000,3000,2000,1000,0],"labelOverlap":false,"labelSeparation":0,"labelExpr":"datum.value==0?'0':(datum.value/1000)+'k'","labelPadding":-21,"labelBaseline":"middle","labelOffset":-2,"labelColor":"#666666"}},
    "y":{"type":"nominal","title":null,"scale":{"type":"band","domain":["12","11","10","9","8","7","6","5","4","3","2","1"],"range":[121.2,243.1],"paddingInner":0.7,"paddingOuter":0.35}}
   },
   "layer":[
    {"data":{"name":"thousands"},"mark":{"type":"rule","color":"#dfe2e7","yOffset":-3,"y2Offset":20},"encoding":{"y":{"datum":"12","type":"nominal","axis":{"labelAlign":"center","labelPadding":-79,"labelColor":"#666666"}},"y2":{"datum":"1"}}},
    {"data":{"name":"leftBars"},"mark":{"type":"bar"},"encoding":{"x2":{"field":"high"},"y":{"field":"month","type":"nominal"},"color":{"field":"series","type":"nominal","scale":{"domain":["实际","目标"],"range":["#dc4aa5","#6a74d2"]},"legend":{"orient":"none","legendX":48,"legendY":14,"direction":"horizontal","columns":2,"columnPadding":16,"title":null,"labelColor":"#666666"}}}}
   ]
  },
  {
   "encoding":{
    "x":{"field":"low","type":"quantitative","title":null,"scale":{"domain":[0,5000],"range":[87.7,137.7],"nice":false,"zero":false},"axis":{"orient":"bottom","values":[0,1000,2000,3000,4000,5000],"labelOverlap":false,"labelSeparation":0,"labelExpr":"datum.value==0?'0':(datum.value/1000)+'k'","labelPadding":-21,"labelBaseline":"middle","labelOffset":3,"labelColor":"#666666"}},
    "y":{"type":"nominal","title":null,"axis":null,"scale":{"type":"band","domain":["12","11","10","9","8","7","6","5","4","3","2","1"],"range":[121.2,243.1],"paddingInner":0.7,"paddingOuter":0.35}}
   },
   "layer":[
    {"data":{"name":"thousands"},"mark":{"type":"rule","color":"#dfe2e7","yOffset":-3,"y2Offset":20},"encoding":{"y":{"datum":"12","type":"nominal"},"y2":{"datum":"1"}}},
    {"data":{"name":"rightBars"},"mark":{"type":"bar"},"encoding":{"x2":{"field":"high"},"y":{"field":"month","type":"nominal"},"color":{"field":"series","type":"nominal"}}}
   ]
  },
  {
   "encoding":{
    "x":{"field":"slot","type":"nominal","axis":null,"scale":{"domain":["back","carrier","s2","wifi","s4","time","s6","s7","alarm","percent","end"],"range":[0,159],"padding":0.5}},
    "y":{"field":"row","type":"nominal","axis":null,"scale":{"domain":["status","nav","a","b","pager"],"range":[5,65],"padding":0}},
    "text":{"field":"label"}
   },
   "layer":[
    {"data":{"name":"status"},"mark":{"type":"text","color":"#222222","fontSize":5,"dx":-2}},
    {"data":{"name":"dots"},"mark":{"type":"text","color":"#222222","fontSize":4,"font":"DejaVu Sans","align":"left","dx":-4}},
    {"data":{"name":"icons"},"mark":{"type":"text","color":"#222222","fontSize":6,"font":"DejaVu Sans"}},
    {"data":{"name":"battery"},"mark":{"type":"text","color":"#222222","fontSize":14,"font":"DejaVu Sans","dx":-2}},
    {"data":{"name":"nav"},"mark":{"type":"text","color":"#222222","fontSize":18,"font":"DejaVu Sans","fontWeight":"bold"}},
    {"data":{"name":"gear"},"mark":{"type":"text","color":"#222222","fontSize":11,"font":"DejaVu Sans","dx":-2}}
   ]
  }
 ]
},
{
 "width":159,"height":282,
 "view":{"fill":"#fbfcff","stroke":"#f1f3f8","strokeWidth":2},
 "title":{"text":"2019年5月","subtitle":"数据趋势","color":"#333333","subtitleColor":"#555555","fontSize":14,"offset":-83},
 "resolve":{"scale":{"x":"independent","y":"independent"}},
 "layer":[
  {
   "encoding":{
    "x":{"field":"pos","type":"quantitative","title":null,"scale":{"domain":[-0.174,4.21],"nice":false,"zero":false},"axis":{"values":[0,1,2,3,4],"labelExpr":"['A','B','C','D','E'][datum.value]","labelPadding":-9,"labelBaseline":"middle","labelColor":"#777777"}},
    "y":{"field":"value","type":"quantitative","title":null,"stack":null,"scale":{"domain":[25,322.9],"nice":false,"zero":false},"axis":{"values":[50,75,100,125,150,175,200],"labelAlign":"left","labelPadding":-5,"labelColor":"#777777"}}
   },
   "layer":[
    {"data":{"name":"trendTicks"},"mark":{"type":"rule","color":"#e8eaee","strokeWidth":1},"encoding":{"y2":{"field":"low"}}},
    {"data":{"name":"trend"},"mark":{"type":"line","strokeWidth":1.1,"clip":true},"encoding":{"color":{"field":"series","type":"nominal","scale":{"domain":["当前","最后"],"range":["#c8197f","#2b30c0"]},"legend":{"orient":"none","legendX":46,"legendY":14,"direction":"horizontal","columns":2,"columnPadding":22,"title":null,"labelColor":"#666666","symbolSize":1,"symbolStrokeWidth":8,"symbolOpacity":0.75}}}},
    {"data":{"name":"trend"},"transform":[{"filter":"datum.pos>=0 && datum.pos<=4"}],"mark":{"type":"circle","size":36,"stroke":"#f3c9e4","strokeWidth":0.5},"encoding":{"fill":{"field":"series","type":"nominal","scale":{"domain":["当前","最后"],"range":["#d94aa5","#6a70d0"]},"legend":null}}}
   ]
  },
  {
   "encoding":{
    "x":{"field":"slot","type":"nominal","axis":null,"scale":{"domain":["back","carrier","s2","wifi","s4","time","s6","s7","alarm","percent","end"],"range":[0,159],"padding":0.5}},
    "y":{"field":"row","type":"nominal","axis":null,"scale":{"domain":["status","nav","a","b","pager"],"range":[5,65],"padding":0}},
    "text":{"field":"label"}
   },
   "layer":[
    {"data":{"name":"status"},"mark":{"type":"text","color":"#222222","fontSize":5,"dx":-2}},
    {"data":{"name":"dots"},"mark":{"type":"text","color":"#222222","fontSize":4,"font":"DejaVu Sans","align":"left","dx":-4}},
    {"data":{"name":"icons"},"mark":{"type":"text","color":"#222222","fontSize":6,"font":"DejaVu Sans"}},
    {"data":{"name":"battery"},"mark":{"type":"text","color":"#222222","fontSize":14,"font":"DejaVu Sans","dx":-2}},
    {"data":{"name":"nav"},"mark":{"type":"text","color":"#222222","fontSize":18,"font":"DejaVu Sans","fontWeight":"bold"}},
    {"data":{"name":"gear"},"mark":{"type":"text","color":"#222222","fontSize":11,"font":"DejaVu Sans","dx":-2}},
    {"data":{"name":"pager"},"mark":{"type":"text","color":"#222222","fontSize":18,"font":"DejaVu Sans","fontWeight":"bold"}}
   ]
  }
 ]
}
]
}
